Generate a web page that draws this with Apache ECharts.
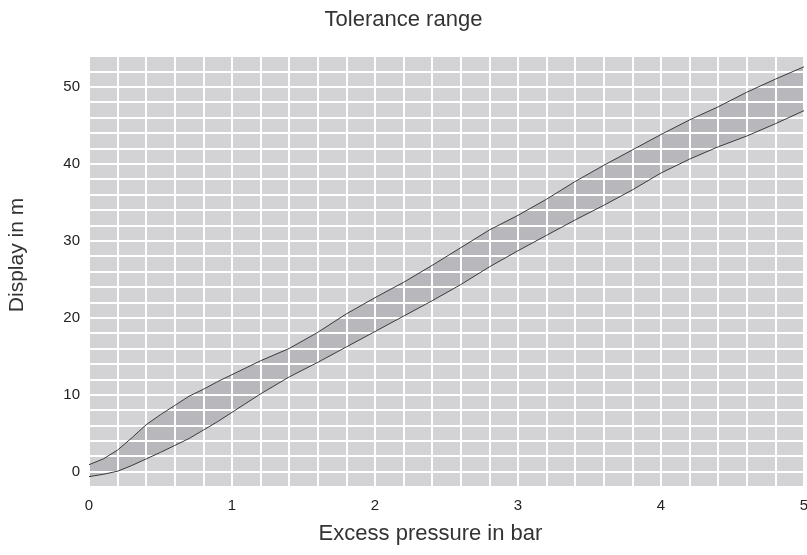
<!DOCTYPE html>
<html>
<head>
<meta charset="utf-8">
<script src="https://cdn.jsdelivr.net/npm/echarts@6/dist/echarts.min.js"></script>
<style>html,body{margin:0;padding:0;background:#fff;}#c{width:807px;height:555px;}</style>
</head>
<body>
<div id="c"></div>
<script>
const pressure = [0, 0.1, 0.2, 0.3, 0.4, 0.5, 0.6, 0.7, 0.8, 0.9, 1.0, 1.2, 1.4, 1.6, 1.8, 2.0, 2.2, 2.4, 2.6, 2.8, 3.0, 3.2, 3.4, 3.6, 3.8, 4.0, 4.2, 4.4, 4.6, 4.8, 5.0];
const upperLimit = [0.9, 1.65, 2.8, 4.4, 6.1, 7.4, 8.6, 9.8, 10.7, 11.7, 12.6, 14.4, 16.0, 18.1, 20.5, 22.6, 24.6, 26.8, 29.1, 31.4, 33.3, 35.4, 37.7, 39.8, 41.8, 43.8, 45.7, 47.4, 49.3, 51.0, 52.6];
const lowerLimit = [-0.65, -0.35, 0.05, 0.8, 1.65, 2.5, 3.4, 4.3, 5.4, 6.5, 7.7, 10.1, 12.3, 14.2, 16.2, 18.2, 20.2, 22.2, 24.3, 26.6, 28.7, 30.7, 32.7, 34.6, 36.6, 38.8, 40.6, 42.2, 43.6, 45.2, 46.9];
const titleText = 'Tolerance range';
const xName = 'Excess pressure in bar';
const yName = 'Display in m';

const pair = (ys) => pressure.map((x, i) => [x, ys[i]]);

const FONT = '"Liberation Sans", Arial, sans-serif';
const chart = echarts.init(document.getElementById('c'), null, {renderer: 'canvas'});
chart.setOption({
  animation: false,
  backgroundColor: '#ffffff',
  title: {
    text: titleText, left: 'center', top: 9, padding: 0,
    textStyle: {fontFamily: FONT, fontSize: 22, fontWeight: 'normal', color: '#333'}
  },
  grid: {
    left: 89, right: 3, top: 56, bottom: 68,
    show: true, backgroundColor: '#d3d3d5', borderWidth: 0,
    outerBoundsMode: 'none'
  },
  xAxis: {
    type: 'value', min: 0, max: 5, interval: 0.2, z: 2,
    name: xName, nameLocation: 'middle', nameGap: 36,
    nameTextStyle: {fontFamily: FONT, fontSize: 22, color: '#333', padding: [0, 32, 0, 0]},
    axisLine: {show: false}, axisTick: {show: false},
    axisLabel: {
      margin: 11, fontFamily: FONT, fontSize: 15, color: '#222',
      formatter: v => Math.abs(v - Math.round(v)) < 1e-6 ? String(Math.round(v)) : ''
    },
    splitLine: {show: true, lineStyle: {color: '#ffffff', width: 2}}
  },
  yAxis: {
    type: 'value', min: -2, max: 54, interval: 2, z: 2,
    name: yName, nameLocation: 'middle', nameGap: 61, nameRotate: 90,
    nameTextStyle: {fontFamily: FONT, fontSize: 21, color: '#333', padding: [0, 0, 0, 33]},
    axisLine: {show: false}, axisTick: {show: false},
    axisLabel: {
      margin: 9, fontFamily: FONT, fontSize: 15, color: '#222',
      formatter: v => (Math.round(v) % 10 === 0 ? String(Math.round(v)) : '')
    },
    splitLine: {show: true, lineStyle: {color: '#ffffff', width: 2}}
  },
  series: [
    {
      type: 'custom', z: 1, silent: true,
      data: [[pressure[0], lowerLimit[0]]],
      renderItem: function (params, api) {
        const pts = [];
        for (let i = 0; i < pressure.length; i++) pts.push(api.coord([pressure[i], upperLimit[i]]));
        for (let i = pressure.length - 1; i >= 0; i--) pts.push(api.coord([pressure[i], lowerLimit[i]]));
        return {type: 'polygon', shape: {points: pts}, style: {fill: '#b8b8bc', stroke: null}};
      }
    },
    {
      type: 'line', data: pair(upperLimit), symbol: 'none', z: 3,
      lineStyle: {color: '#3a3a3a', width: 1}
    },
    {
      type: 'line', data: pair(lowerLimit), symbol: 'none', z: 3,
      lineStyle: {color: '#3a3a3a', width: 1}
    }
  ]
});
</script>
</body>
</html>
